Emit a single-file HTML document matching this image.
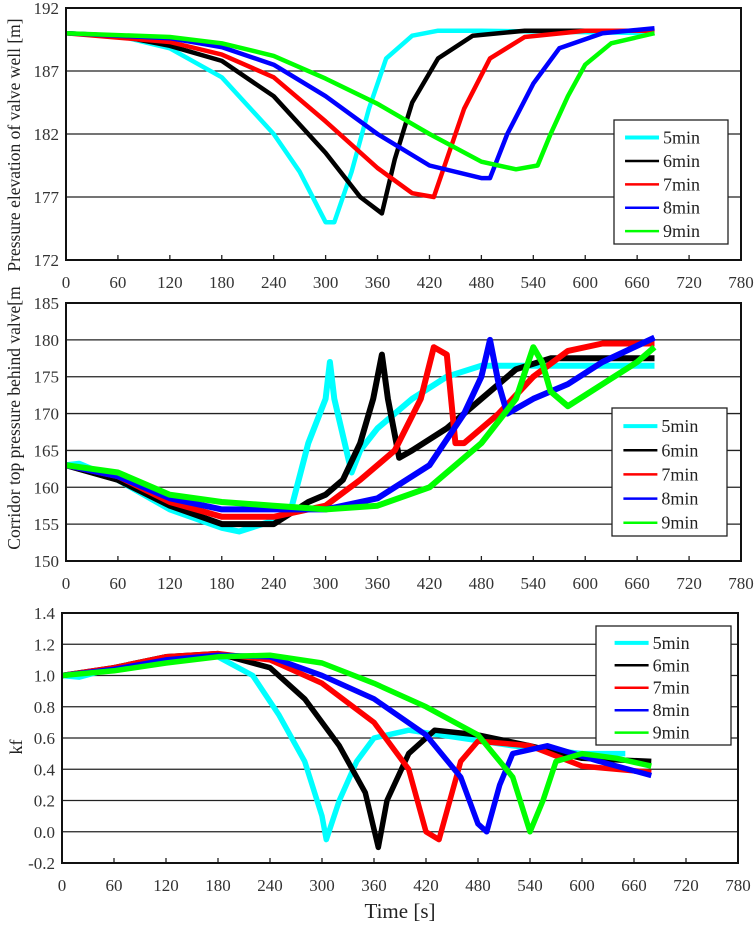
<!DOCTYPE html>
<html><head><meta charset="utf-8"><style>
html,body{margin:0;padding:0;background:#fff;}
svg{display:block;font-family:"Liberation Serif",serif;}
</style></head><body>
<svg id="c" width="754" height="931" viewBox="0 0 754 931" xmlns="http://www.w3.org/2000/svg"></svg>
<script>
const seriesNames = ["5min","6min","7min","8min","9min"];
const seriesColors = ["#00ffff","#000000","#ff0000","#0000ff","#00ff00"];
const xTicks = [0,60,120,180,240,300,360,420,480,540,600,660,720,780];

const topTicks = [172,177,182,187,192];
const t5 = [[0,190],[60,189.8],[120,188.8],[180,186.5],[240,182],[270,179],[300,175],[310,175],[330,179],[350,184],[370,188],[400,189.8],[430,190.2],[480,190.2],[680,190]];
const t6 = [[0,190],[60,189.8],[120,189],[180,187.8],[240,185],[300,180.5],[340,177],[365,175.7],[380,180],[400,184.5],[430,188],[470,189.8],[530,190.2],[680,190.2]];
const t7 = [[0,190],[120,189.3],[180,188.3],[240,186.5],[300,183],[360,179.3],[400,177.3],[425,177],[440,180],[460,184],[490,188],[530,189.7],[600,190.2],[680,190.2]];
const t8 = [[0,190],[120,189.6],[180,188.9],[240,187.5],[300,185],[360,182],[420,179.5],[480,178.5],[490,178.5],[510,182],[540,186],[570,188.8],[620,190],[680,190.4]];
const t9 = [[0,190],[120,189.7],[180,189.2],[240,188.2],[300,186.4],[360,184.4],[420,182],[480,179.8],[520,179.2],[545,179.5],[560,182],[580,185],[600,187.5],[630,189.2],[680,190]];

const midTicks = [150,155,160,165,170,175,180,185];
const m5 = [[0,163],[15,163.2],[60,161],[120,157],[180,154.5],[200,154],[240,155.5],[260,157],[280,166],[300,172],[305,177],[310,172],[330,162],[340,165],[360,168],[400,172],[440,175],[480,176.5],[680,176.5]];
const m6 = [[0,163],[60,161],[120,157.5],[180,155],[240,155],[280,158],[300,159],[320,161],[340,166],[355,172],[365,178],[372,172],[385,164],[400,165],[440,168],[480,172],[520,176],[560,177.5],[680,177.5]];
const m7 = [[0,163],[60,161.5],[120,158],[180,156],[240,156],[300,157.5],[340,161],[380,165],[410,172],[425,179],[440,178],[450,166],[460,166],[500,170],[540,175],[580,178.5],[620,179.5],[680,179.5]];
const m8 = [[0,163],[60,161.5],[120,158.5],[180,157],[240,157],[300,157],[360,158.5],[420,163],[460,170],[480,175],[490,180],[500,174],[510,170],[540,172],[580,174],[620,177],[680,180.3]];
const m9 = [[0,163],[60,162],[120,159],[180,158],[240,157.5],[300,157],[360,157.5],[420,160],[480,166],[520,172],[540,179],[550,177],[560,173],[580,171],[620,174],[660,177],[680,179]];

const botTicks = [-0.2,0.0,0.2,0.4,0.6,0.8,1.0,1.2,1.4];
const botLabels = ["-0.2","0.0","0.2","0.4","0.6","0.8","1.0","1.2","1.4"];
const k5 = [[0,1],[20,0.99],[60,1.05],[120,1.12],[180,1.12],[220,1.0],[250,0.75],[280,0.45],[300,0.1],[305,-0.05],[320,0.2],[340,0.45],[360,0.6],[400,0.65],[460,0.6],[520,0.55],[600,0.5],[650,0.5]];
const k6 = [[0,1],[60,1.05],[120,1.12],[180,1.14],[240,1.05],[280,0.85],[320,0.55],[350,0.25],[365,-0.1],[375,0.2],[400,0.5],[430,0.65],[480,0.62],[540,0.55],[600,0.47],[680,0.45]];
const k7 = [[0,1],[60,1.05],[120,1.12],[180,1.14],[240,1.1],[300,0.95],[360,0.7],[400,0.4],[420,0.0],[435,-0.05],[445,0.15],[460,0.45],[480,0.58],[540,0.55],[600,0.42],[680,0.38]];
const k8 = [[0,1],[60,1.04],[120,1.1],[180,1.13],[240,1.12],[300,1.0],[360,0.85],[420,0.62],[460,0.35],[480,0.05],[490,0.0],[505,0.3],[520,0.5],[560,0.55],[620,0.45],[680,0.36]];
const k9 = [[0,1],[60,1.03],[120,1.08],[180,1.12],[240,1.13],[300,1.08],[360,0.95],[420,0.8],[480,0.62],[520,0.35],[540,0.0],[555,0.2],[570,0.45],[600,0.5],[640,0.47],[680,0.42]];

const NS="http://www.w3.org/2000/svg";
const svg=document.getElementById('c');
function mk(tag,attrs,parent){const e=document.createElementNS(NS,tag);for(const k in attrs)e.setAttribute(k,attrs[k]);(parent||svg).appendChild(e);return e;}

function panel(cfg){
  const g=mk('g',{});
  
  
  const {L,R,T,B,ymin,ymax}=cfg;
  const sx=v=>L+(v-0)/780*(R-L);
  const sy=v=>B-(v-ymin)/(ymax-ymin)*(B-T);
  cfg.yt.forEach((v,i)=>{
    const y=sy(v);
    if(i>0&&i<cfg.yt.length-1){const gl=mk('line',{x1:L,x2:R,y1:y,y2:y,stroke:'#222','stroke-width':1.3},g);
      
      }
    const t=mk('text',{x:L-7,y:y+6,'text-anchor':'end','font-size':17,fill:'#333'},g);
    
    
    t.textContent=cfg.yl?cfg.yl[i]:v;
  });
  xTicks.forEach(v=>{
    const x=sx(v);
    if(v>0&&v<780) mk('line',{x1:x,x2:x,y1:B,y2:B-5,stroke:'#222','stroke-width':1.3},g);
    const t=mk('text',{x:x,y:B+28,'text-anchor':'middle','font-size':17,fill:'#333'},g);
    
    
    t.textContent=v;
  });
  cfg.data.forEach((d,i)=>{
    const p=mk('polyline',{points:d.map(q=>sx(q[0]).toFixed(1)+','+sy(q[1]).toFixed(1)).join(' '),fill:'none',stroke:seriesColors[i],'stroke-width':cfg.sw,'stroke-linejoin':'round'},g);
    
    
  });
  const fr=mk('rect',{x:L,y:T,width:R-L,height:B-T,fill:'none',stroke:'#111','stroke-width':2},g);
  
  
  const lg=mk('g',{},g);
  
  
  const [lx,ly,lw,lh]=cfg.leg;
  mk('rect',{x:lx,y:ly,width:lw,height:lh,fill:'#fff',stroke:'#222','stroke-width':1.3},lg);
  const step=lh/5.3;
  seriesNames.forEach((n,i)=>{
    const yy=ly+step*(i+0.75);
    mk('line',{x1:lx+lw*0.36-30,x2:lx+lw*0.36+4,y1:yy,y2:yy,stroke:seriesColors[i],'stroke-width':i==0?4:2.5},lg);
    const t=mk('text',{x:lx+lw*0.36+8,y:yy+6,'font-size':18,fill:'#222'},lg);
    
    
    t.textContent=n;
  });
}
panel({name:'pressure-elevation-panel',L:66,R:741,T:8,B:260,ymin:172,ymax:192,yt:topTicks,data:[t5,t6,t7,t8,t9],sw:4.5,leg:[614,120,114,124]});
panel({name:'corridor-pressure-panel',L:66,R:741,T:303,B:561,ymin:150,ymax:185,yt:midTicks,data:[m5,m6,m7,m8,m9],sw:6,leg:[612,408,115,128]});
panel({name:'kf-panel',L:62,R:738,T:613,B:863,ymin:-0.2,ymax:1.4,yt:botTicks,yl:botLabels,data:[k5,k6,k7,k8,k9],sw:5.5,leg:[596,626,135,119]});

function vtext(name,txt,x,y,size){
  const t=mk('text',{x:0,y:0,transform:`translate(${x},${y}) rotate(-90)`,'text-anchor':'middle','font-size':size,fill:'#222'});
  
  
  t.textContent=txt;
}
vtext('y-axis-title-top','Pressure elevation of valve well  [m]',20,145,17.5);
vtext('y-axis-title-middle','Corridor top pressure behind valve[m',20,418,17.5);
vtext('y-axis-title-bottom','kf',22,747,18);
const xt=mk('text',{x:400,y:918,'text-anchor':'middle','font-size':21,fill:'#222'});


xt.textContent='Time [s]';
</script>
</body></html>
